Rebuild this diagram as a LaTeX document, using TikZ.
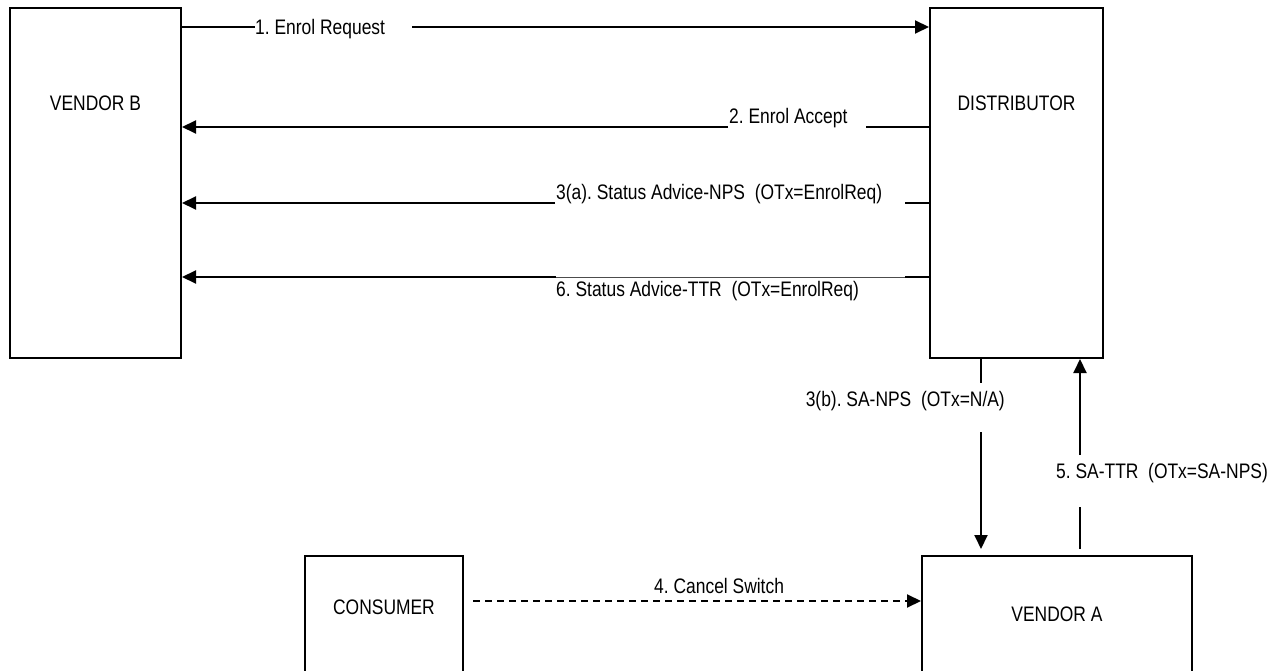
\documentclass[tikz,border=0pt]{standalone}
\usepackage{fontspec}
\setmainfont{Liberation Sans}[FakeStretch=0.83]
\usetikzlibrary{arrows.meta}
\begin{document}
\frenchspacing
\begin{tikzpicture}[x=1pt,y=-1pt,
  box/.style={draw, line width=2pt, inner sep=0pt},
  txt/.style={font=\fontsize{21}{25}\selectfont, inner sep=0pt},
  conn/.style={line width=2pt},
  thin/.style={line width=0.8pt, black!70},
  tip/.style={-{Triangle[length=14pt,width=13pt]}},
  dash4/.style={dash pattern=on 7pt off 5pt}]
\useasboundingbox (0,0) rectangle (1278,671);
\fill[white] (0,0) rectangle (1278,671);

% boxes
\node[box, minimum width=171pt, minimum height=350pt] (vb) at (95.5,183) {};
\node[box, minimum width=173pt, minimum height=350pt] (dist) at (1016.5,183) {};
\node[box, minimum width=158pt, minimum height=130pt] (cons) at (384,621) {};
\node[box, minimum width=270pt, minimum height=130pt] (va) at (1057,621) {};

% box titles
\node[txt, anchor=base] (vbt) at (95.5,111) {VENDOR B};
\node[txt, anchor=base] (distt) at (1016.5,111) {DISTRIBUTOR};
\node[txt, anchor=base] (const) at (384,614) {CONSUMER};
\node[txt, anchor=base] (vat) at (1057,621) {VENDOR A};

% 1. Enrol Request
\coordinate (a1) at (255,27);
\coordinate (a2) at (412,27);
\draw[conn] (vb.east |- a1) -- (a1);
\draw[conn, tip] (a2) -- (dist.west |- a2);
\node[txt, anchor=base west] (l1) at (255,35) {1. Enrol Request};

% 2. Enrol Accept
\coordinate (b1) at (866,127);
\coordinate (b2) at (728,127);
\draw[conn] (dist.west |- b1) -- (b1);
\draw[conn, tip] (b2) -- (vb.east |- b2);
\node[txt, anchor=base west] (l2) at (729,124) {2. Enrol Accept};

% 3(a)
\coordinate (c1) at (905,203);
\coordinate (c2) at (555,203);
\draw[conn] (dist.west |- c1) -- (c1);
\draw[conn, tip] (c2) -- (vb.east |- c2);
\node[txt, anchor=base west] (l3a) at (556,200) {3(a). Status Advice-NPS\ \ (OTx=EnrolReq)};

% 6
\coordinate (d1) at (905,277);
\coordinate (d2) at (556,277);
\draw[conn] (dist.west |- d1) -- (d1);
\draw[thin] (d1) -- (d2);
\draw[conn, tip] (d2) -- (vb.east |- d2);
\node[txt, anchor=base west] (l6) at (556,297) {6. Status Advice-TTR\ \ (OTx=EnrolReq)};

% 3(b)
\coordinate (e1) at (981,383);
\coordinate (e2) at (981,432);
\draw[conn] (dist.south -| e1) -- (e1);
\draw[conn, tip] (e2) -- (e2 |- 0,549);
\node[txt, anchor=base east] (l3b) at (1005,406) {3(b). SA-NPS\ \ (OTx=N/A)};

% 5
\coordinate (f1) at (1080,507);
\coordinate (f2) at (1080,455);
\coordinate (f0) at (1080,549);
\draw[conn] (f0) -- (f1);
\draw[conn, tip] (f2) -- (dist.south -| f2);
\node[txt, anchor=base west] (l5) at (1056,478) {5. SA-TTR\ \ (OTx=SA-NPS)};

% 4. Cancel Switch
\coordinate (g1) at (473,601);
\draw[conn, dash4, tip] (g1) -- (va.west |- g1);
\node[txt, anchor=base west] (l4) at (654,593) {4. Cancel Switch};
\end{tikzpicture}
\end{document}
